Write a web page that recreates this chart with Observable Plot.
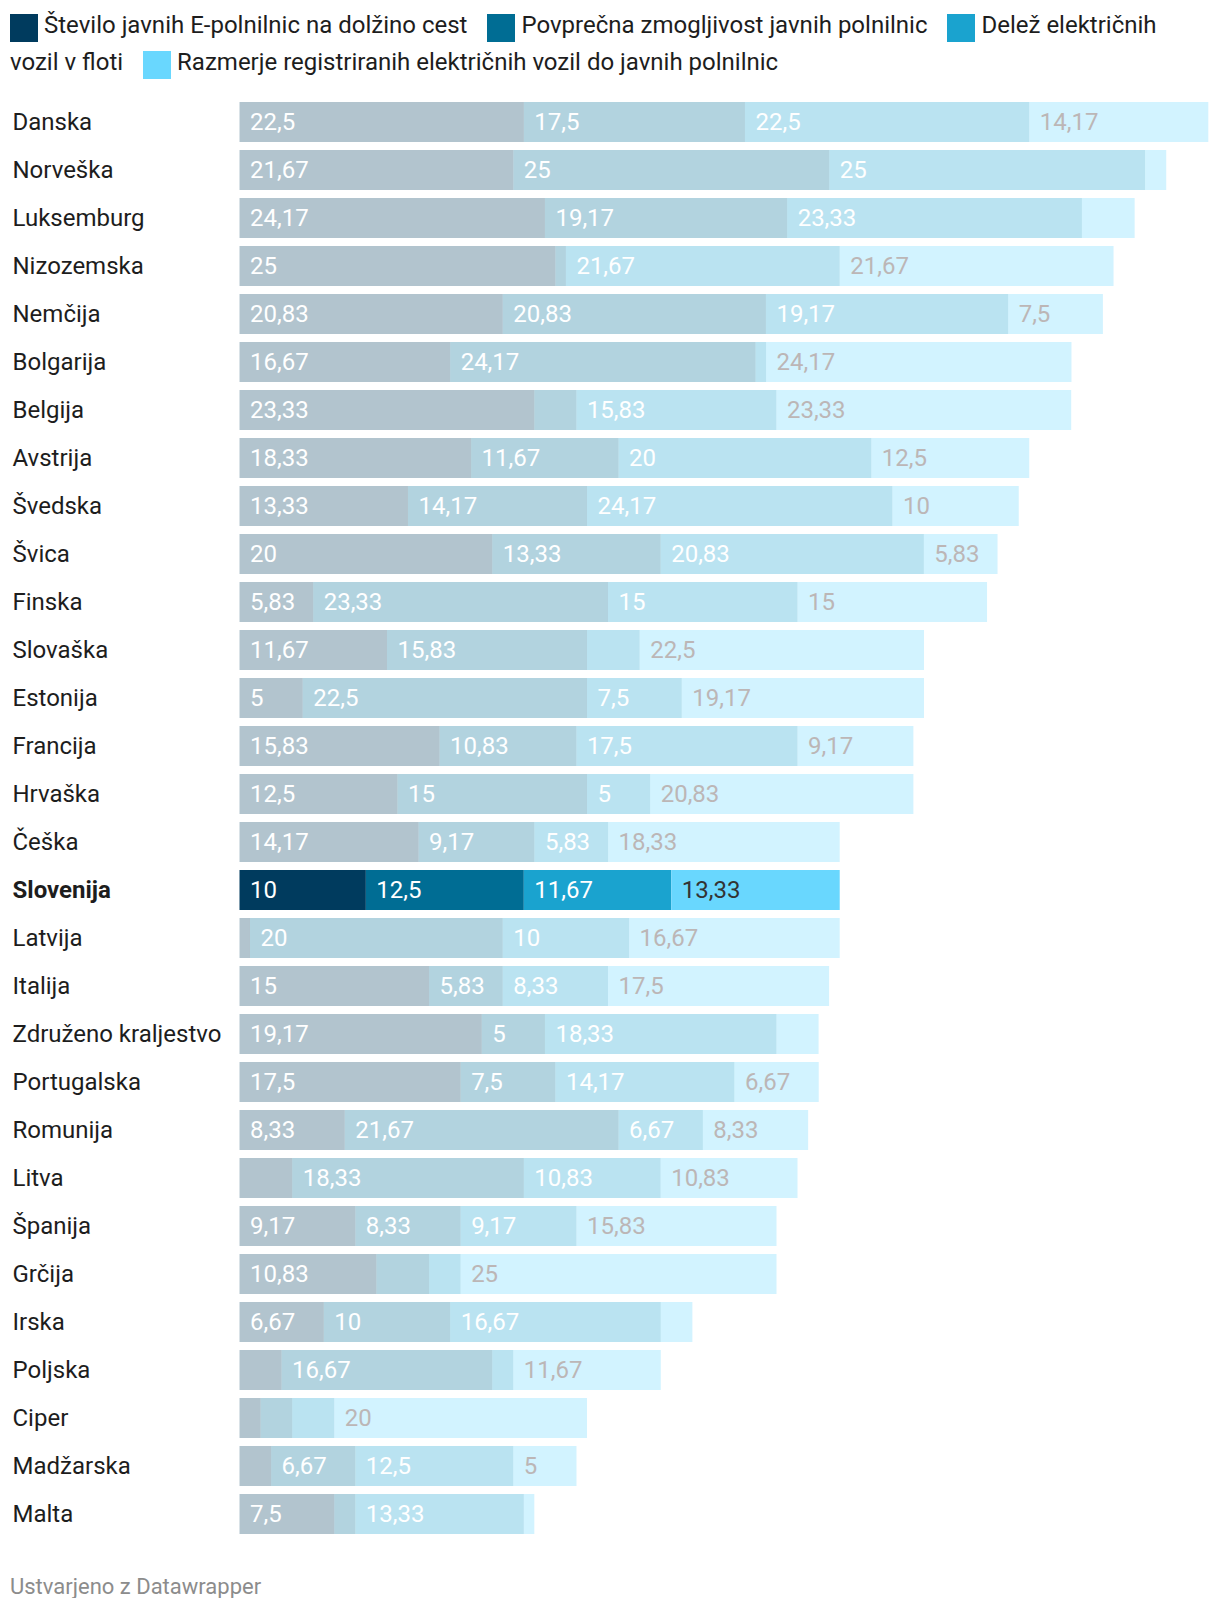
<!DOCTYPE html>
<html>
<head>
<meta charset="utf-8">
<script src="https://cdn.jsdelivr.net/npm/d3@7"></script>
<script src="https://cdn.jsdelivr.net/npm/@observablehq/plot@0.6"></script>
<style>
  html, body { margin: 0; padding: 0; background: #fff; }
  body { width: 1220px; font-family: Roboto, sans-serif; }
  #legend { box-sizing: border-box; width: 1220px; height: 85px; padding: 6.5px 10px 0 10px;
            font-size: 24px; line-height: 37px; color: #1d1d1d; }
  .sw { display: inline-block; width: 28px; height: 28px; vertical-align: -9px; margin-right: 6px; }
  .sw.next { margin-left: 20px; }
  #chart { height: 1475px; }
  #chart svg { display: block; }
  #footer { margin: 15.5px 0 0 10px; font-size: 22px; line-height: 1; color: #8c8c8c; }
</style>
</head>
<body>
<div id="legend"></div>
<div id="chart"></div>
<div id="footer">Ustvarjeno z Datawrapper</div>
<script>
const countries = ["Danska","Norveška","Luksemburg","Nizozemska","Nemčija","Bolgarija","Belgija","Avstrija","Švedska","Švica","Finska","Slovaška","Estonija","Francija","Hrvaška","Češka","Slovenija","Latvija","Italija","Združeno kraljestvo","Portugalska","Romunija","Litva","Španija","Grčija","Irska","Poljska","Ciper","Madžarska","Malta"];

const seriesNames = [
  "Število javnih E-polnilnic na dolžino cest",
  "Povprečna zmogljivost javnih polnilnic",
  "Delež električnih vozil v floti",
  "Razmerje registriranih električnih vozil do javnih polnilnic"
];
const seriesColors = ["#003b5e", "#006d94", "#1aa3cf", "#69d7fe"];

const stevilo     = [22.5, 21.67, 24.17, 25, 20.83, 16.67, 23.33, 18.33, 13.33, 20, 5.83, 11.67, 5, 15.83, 12.5, 14.17, 10, 0.83, 15, 19.17, 17.5, 8.33, 4.17, 9.17, 10.83, 6.67, 3.33, 1.67, 2.5, 7.5];
const zmogljivost = [17.5, 25, 19.17, 0.83, 20.83, 24.17, 3.33, 11.67, 14.17, 13.33, 23.33, 15.83, 22.5, 10.83, 15, 9.17, 12.5, 20, 5.83, 5, 7.5, 21.67, 18.33, 8.33, 4.17, 10, 16.67, 2.5, 6.67, 1.67];
const delez       = [22.5, 25, 23.33, 21.67, 19.17, 0.83, 15.83, 20, 24.17, 20.83, 15, 4.17, 7.5, 17.5, 5, 5.83, 11.67, 10, 8.33, 18.33, 14.17, 6.67, 10.83, 9.17, 2.5, 16.67, 1.67, 3.33, 12.5, 13.33];
const razmerje    = [14.17, 1.67, 4.17, 21.67, 7.5, 24.17, 23.33, 12.5, 10, 5.83, 15, 22.5, 19.17, 9.17, 20.83, 18.33, 13.33, 16.67, 17.5, 3.33, 6.67, 8.33, 10.83, 15.83, 25, 2.5, 11.67, 20, 5, 0.83];

const highlight = "Slovenija";
const seriesValues = [stevilo, zmogljivost, delez, razmerje];

// long table with cumulative starts (stacking)
const rows = [];
countries.forEach((c, i) => {
  let s = 0;
  seriesValues.forEach((arr, k) => {
    const v = arr[i];
    rows.push({country: c, series: seriesNames[k], k, value: v, x1: s, x2: s + v});
    s += v;
  });
});
const maxTotal = d3.max(countries, (c, i) => d3.sum(seriesValues, a => a[i]));
const fmt = v => String(v).replace(".", ",");

// legend: each word in its own span so every text box stays on one line
const legend = document.getElementById("legend");
legend.innerHTML = seriesNames.map((n, i) =>
  `<span class="sw${i ? " next" : ""}" style="background:${seriesColors[i]}"></span>` +
  n.split(" ").map(w => `<span>${w}</span>`).join(" ")).join("");

const ML = 239.5, MR = 11.7;
const labelStyle = {fontSize: 24, fontFamily: "Roboto"};

const chart = Plot.plot({
  width: 1220,
  height: 1475,
  marginLeft: ML,
  marginRight: MR,
  marginTop: 12.7,
  marginBottom: 22.3,
  x: {domain: [0, maxTotal], axis: null},
  y: {domain: countries, axis: null, paddingInner: 1/6, paddingOuter: 1/12},
  color: {domain: seriesNames, range: seriesColors},
  style: {fontFamily: "Roboto", background: "white"},
  marks: [
    Plot.barX(rows.filter(d => d.country !== highlight), {x1: "x1", x2: "x2", y: "country", fill: "series", fillOpacity: 0.3}),
    Plot.barX(rows.filter(d => d.country === highlight), {x1: "x1", x2: "x2", y: "country", fill: "series"}),
    Plot.text(rows.filter(d => d.value >= 4.5 && d.k < 3), {x: "x1", y: "country", text: d => fmt(d.value), dx: 10, textAnchor: "start", fill: "white", ...labelStyle}),
    Plot.text(rows.filter(d => d.value >= 4.5 && d.k === 3 && d.country !== highlight), {x: "x1", y: "country", text: d => fmt(d.value), dx: 10, textAnchor: "start", fill: "#bcb6b6", ...labelStyle}),
    Plot.text(rows.filter(d => d.value >= 4.5 && d.k === 3 && d.country === highlight), {x: "x1", y: "country", text: d => fmt(d.value), dx: 10, textAnchor: "start", fill: "#333", ...labelStyle}),
    Plot.text(countries.filter(c => c !== highlight), {y: d => d, frameAnchor: "left", dx: -(ML - 12), textAnchor: "start", fill: "#1d1d1d", ...labelStyle}),
    Plot.text([highlight], {y: d => d, frameAnchor: "left", dx: -(ML - 12), textAnchor: "start", fill: "#1d1d1d", fontWeight: "bold", ...labelStyle})
  ]
});
document.getElementById("chart").appendChild(chart);
</script>
</body>
</html>
